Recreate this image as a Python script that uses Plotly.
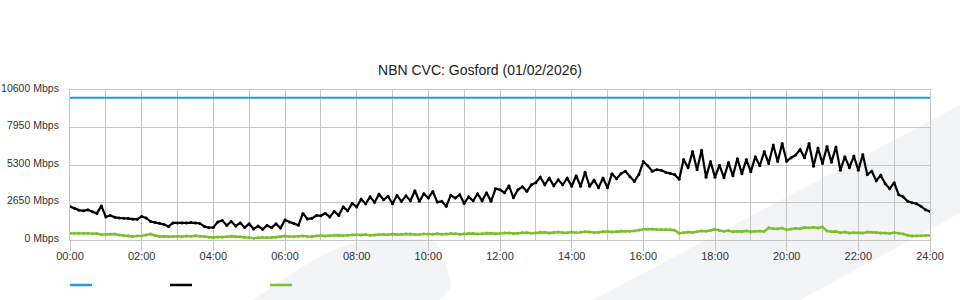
import plotly.graph_objects as go

# ---------------- data ----------------
title_text = "NBN CVC: Gosford (01/02/2026)"

# x ticks (hours) and labels
tick_hours = [0, 2, 4, 6, 8, 10, 12, 14, 16, 18, 20, 22, 24]
tick_labels = ["00:00", "02:00", "04:00", "06:00", "08:00", "10:00", "12:00",
               "14:00", "16:00", "18:00", "20:00", "22:00", "24:00"]
y_ticks = [0, 2650, 5300, 7950, 10600]
y_tick_labels = ["0 Mbps", "2650 Mbps", "5300 Mbps", "7950 Mbps", "10600 Mbps"]

# capacity (blue) – constant
capacity_hours = [0, 24]
capacity_mbps = [10060, 10060]

# download traffic (black), sampled every 7.5 minutes
download_mbps = [
    2360, 2240, 2110, 2060, 2130, 1990, 1880, 2410, 1630, 1730,
    1600, 1560, 1540, 1530, 1470, 1460, 1670, 1560, 1300, 1240,
    1190, 1100, 960, 1210, 1210, 1210, 1210, 1260, 1210, 1170,
    960, 870, 890, 1280, 1380, 1030, 1310, 990, 1210, 890,
    1140, 780, 990, 760, 1030, 870, 1140, 850, 1420, 1280,
    1170, 1040, 1880, 1490, 1530, 1730, 1720, 1880, 1630, 2020,
    1740, 2340, 2060, 2590, 2340, 2880, 2560, 3050, 2660, 3230,
    2840, 3090, 2560, 3150, 2730, 3120, 2770, 3480, 2730, 3270,
    2960, 3430, 2680, 2730, 2380, 3150, 2960, 3200, 2590, 3050,
    2770, 3270, 2770, 3340, 2730, 3620, 3550, 3340, 3830, 2980,
    3550, 3760, 3440, 3900, 4050, 4440, 3900, 4370, 3830, 4260,
    3900, 4370, 3800, 4540, 3800, 4790, 3800, 4220, 3690, 4380,
    3690, 4690, 4330, 4690, 4850, 4470, 4140, 4620, 5540, 5250,
    4860, 4970, 4930, 4790, 4720, 4620, 4300, 5680, 5110, 6250,
    4970, 6350, 4440, 5540, 4440, 5290, 4400, 5470, 4540, 5750,
    4690, 5680, 4830, 5890, 5250, 6250, 5400, 6710, 5540, 6820,
    5570, 5820, 6000, 6390, 5820, 6820, 5220, 6500, 5400, 6600,
    5500, 6570, 4930, 5890, 5110, 5930, 4930, 6040, 4620, 4860,
    4190, 4580, 3980, 3620, 4050, 3200, 3050, 2730, 2630, 2560,
    2380, 2130, 2020,
]
download_hours = [i * 0.125 for i in range(len(download_mbps))]

# upload traffic (green), sampled every 7.5 minutes (8 per hour)
upload_mbps = [
    470, 480, 470, 470, 470, 450, 460, 380,      # 00
    400, 430, 420, 350, 320, 300, 250, 290,      # 01
    290, 360, 420, 320, 250, 260, 230, 240,      # 02
    270, 230, 290, 260, 300, 260, 240, 200,      # 03
    180, 210, 200, 230, 260, 230, 250, 200,      # 04
    170, 130, 160, 190, 170, 180, 200, 240,      # 05
    280, 240, 230, 270, 290, 240, 250, 300,      # 06
    310, 280, 300, 350, 340, 310, 330, 370,      # 07
    380, 350, 380, 340, 360, 410, 400, 370,      # 08
    420, 380, 400, 440, 420, 380, 390, 440,      # 09
    430, 400, 440, 410, 420, 470, 450, 410,      # 10
    440, 480, 460, 420, 450, 500, 480, 440,      # 11
    470, 510, 500, 460, 480, 530, 520, 480,      # 12
    500, 560, 550, 500, 530, 560, 520, 510,      # 13
    560, 520, 540, 590, 570, 530, 550, 600,      # 14
    600, 570, 600, 640, 620, 610, 640, 700,      # 15
    760, 780, 770, 740, 740, 750, 720, 690,      # 16
    480, 520, 560, 530, 590, 640, 620, 680,      # 17
    760, 680, 620, 660, 580, 620, 600, 640,      # 18
    580, 620, 640, 610, 860, 800, 800, 840,      # 19
    720, 780, 830, 800, 880, 860, 900, 850,      # 20
    920, 640, 580, 600, 520, 560, 500, 520,      # 21
    520, 490, 560, 540, 530, 480, 500, 470,      # 22
    520, 480, 430, 330, 280, 290, 300, 320,      # 23
    330,                                         # 24
]
upload_hours = [i * 0.125 for i in range(len(upload_mbps))]

# ---------------- styling ----------------
BLUE = "#1f9fe0"
BLACK = "#000000"
GREEN = "#7cbf2c"
GRID = "#c6c6c6"
BAND = "#f3f4f6"
FONT = "Liberation Sans, Arial, sans-serif"

W, H = 960, 300
L, R, T, B = 70, 30, 90, 60
PW, PH = W - L - R, H - T - B


def px(x):
    return (x - L) / PW


def py(y):
    return (H - B - y) / PH


fig = go.Figure()

fig.add_trace(go.Scatter(x=capacity_hours, y=capacity_mbps, mode="lines",
                         line=dict(color=BLUE, width=2), showlegend=False,
                         name="Capacity"))
fig.add_trace(go.Scatter(x=upload_hours, y=upload_mbps, mode="lines+markers",
                         line=dict(color=GREEN, width=2.4),
                         marker=dict(color=GREEN, size=3),
                         showlegend=False, name="Upload"))
fig.add_trace(go.Scatter(x=download_hours, y=download_mbps, mode="lines+markers",
                         line=dict(color=BLACK, width=2.2),
                         marker=dict(color=BLACK, size=3),
                         showlegend=False, name="Download"))

# background decorative shapes (pixel -> paper)
band = [(593, 300), (960, 105), (960, 213), (800, 300)]
swoosh = [(253, 300), (275, 285), (300, 268), (325, 254), (347, 245), (370, 239.5),
          (400, 237.5), (425, 239), (437, 243), (443, 255), (448, 272), (452, 286),
          (440, 300)]
shapes = []
for poly in (band, swoosh):
    path = "M " + " L ".join(f"{px(x):.4f},{py(y):.4f}" for x, y in poly) + " Z"
    shapes.append(dict(type="path", xref="paper", yref="paper", path=path,
                       fillcolor=BAND, line=dict(width=0), layer="below"))

# legend swatches
for x0, col in ((70, BLUE), (170, BLACK), (270, GREEN)):
    shapes.append(dict(type="line", xref="paper", yref="paper",
                       x0=px(x0), x1=px(x0 + 22), y0=py(285), y1=py(285),
                       line=dict(color=col, width=2.5)))

fig.update_layout(
    width=W, height=H,
    margin=dict(l=L, r=R, t=T, b=B, autoexpand=False),
    paper_bgcolor="white",
    plot_bgcolor="rgba(0,0,0,0)",
    font=dict(family=FONT, size=11, color="#333333"),
    title=dict(text=title_text, x=0.5, xref="container", xanchor="center",
               y=1 - 70 / H, yref="container", yanchor="middle",
               font=dict(family=FONT, size=14, color="#222222")),
    shapes=shapes,
    showlegend=False,
    xaxis=dict(range=[0, 24], tickmode="array", tickvals=tick_hours,
               ticktext=tick_labels, showgrid=True, gridcolor=GRID, gridwidth=1,
               ticks="outside", ticklen=10, tickcolor=GRID, tickwidth=1,
               ticklabelstandoff=-4, automargin=False,
               minor=dict(dtick=1, showgrid=True, gridcolor=GRID, gridwidth=1),
               showline=True, linecolor=GRID, linewidth=1, mirror=True,
               zeroline=False, fixedrange=True),
    yaxis=dict(range=[0, 10600], tickmode="array", tickvals=y_ticks,
               ticktext=y_tick_labels, showgrid=True, gridcolor=GRID, gridwidth=1,
               ticks="", ticklabelstandoff=8, ticklabelshift=-2, automargin=False,
               tickfont=dict(family=FONT, size=10.5, color="#333333"),
               showline=True, linecolor=GRID, linewidth=1, mirror=True,
               zeroline=False, fixedrange=True),
)

fig.write_html("out.html")
